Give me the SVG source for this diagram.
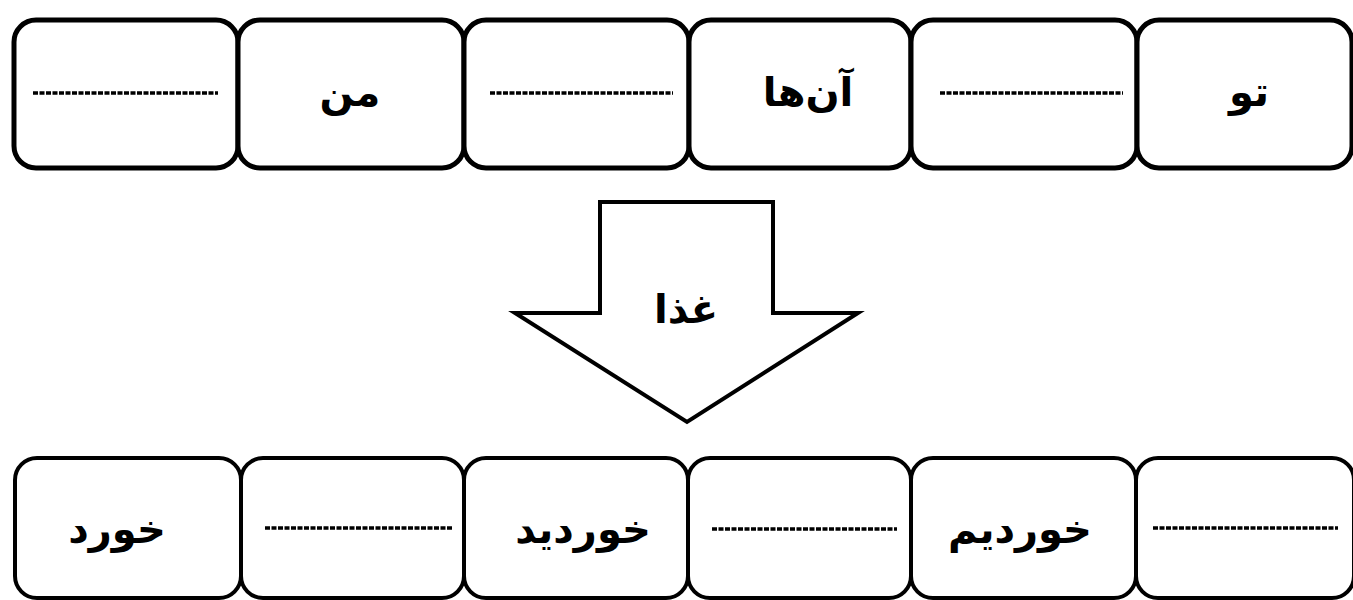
<svg xmlns="http://www.w3.org/2000/svg" width="1353" height="600" viewBox="0 0 1353 600">
<style>
.box{fill:#fff;stroke:#000;stroke-width:5}
.box2{fill:#fff;stroke:#000;stroke-width:4}
.blank{stroke:#000;stroke-width:3.5;stroke-dasharray:5 1.5}
.lbl{font-family:"DejaVu Sans",sans-serif;font-weight:bold;font-size:40px;fill:#000;text-anchor:middle;direction:rtl}
.arrow{fill:#fff;stroke:#000;stroke-width:4;stroke-linejoin:miter}
</style>
<rect width="1353" height="600" fill="#fff"/>
<g id="top-row">
<g id="t1"><rect class="box" x="14" y="20" width="224" height="148" rx="22"/><line class="blank" x1="33" y1="93" x2="218" y2="93"/></g>
<g id="t2"><rect class="box" x="238" y="20" width="226" height="148" rx="22"/><text class="lbl" x="350" y="106">من</text></g>
<g id="t3"><rect class="box" x="464" y="20" width="225" height="148" rx="22"/><line class="blank" x1="490" y1="93" x2="673" y2="93"/></g>
<g id="t4"><rect class="box" x="689" y="20" width="222" height="148" rx="22"/><text class="lbl" x="808" y="106">آن‌ها</text></g>
<g id="t5"><rect class="box" x="911" y="20" width="226" height="148" rx="22"/><line class="blank" x1="940" y1="93" x2="1123" y2="93"/></g>
<g id="t6"><rect class="box" x="1137" y="20" width="215" height="148" rx="22"/><text class="lbl" x="1249" y="106">تو</text></g>
</g>
<g id="bottom-row">
<g id="b1"><rect class="box2" x="15" y="458" width="226" height="140" rx="22"/><text class="lbl" x="117" y="543">خورد</text></g>
<g id="b2"><rect class="box2" x="241" y="458" width="223" height="140" rx="22"/><line class="blank" x1="265" y1="528" x2="452" y2="528"/></g>
<g id="b3"><rect class="box2" x="464" y="458" width="224" height="140" rx="22"/><text class="lbl" x="583" y="543">خوردید</text></g>
<g id="b4"><rect class="box2" x="688" y="458" width="223" height="140" rx="22"/><line class="blank" x1="712" y1="529" x2="897" y2="529"/></g>
<g id="b5"><rect class="box2" x="911" y="458" width="225" height="140" rx="22"/><text class="lbl" x="1020" y="543">خوردیم</text></g>
<g id="b6"><rect class="box2" x="1136" y="458" width="218" height="140" rx="22"/><line class="blank" x1="1153" y1="528" x2="1338" y2="528"/></g>
</g>
<g id="connectors">
<g id="arrow"><path class="arrow" d="M600,202 L773,202 L773,313 L858,313 L687,422 L515,313 L600,313 Z"/><text class="lbl" x="686" y="323">غذا</text></g>
</g>
</svg>
